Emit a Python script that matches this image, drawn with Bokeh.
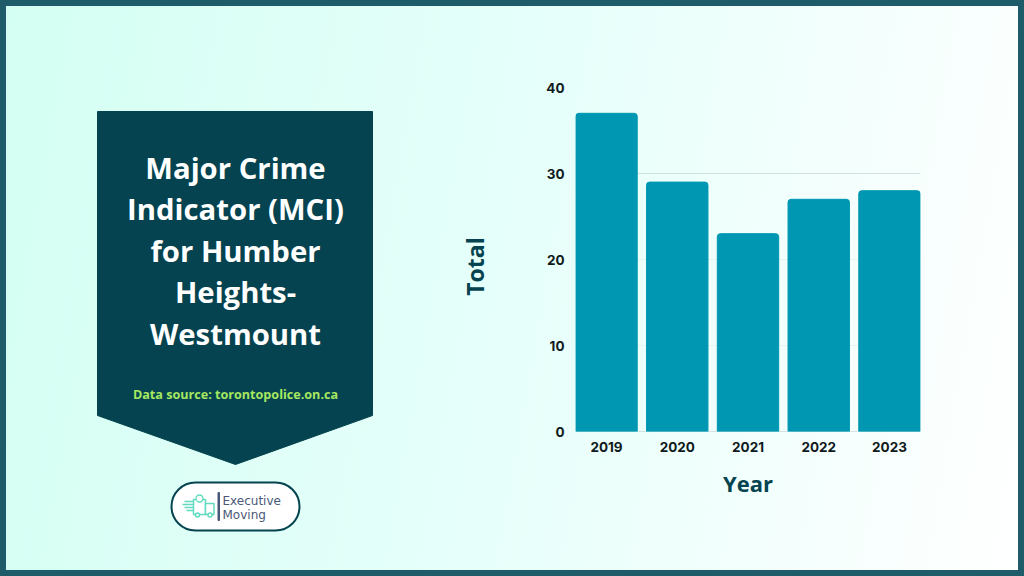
from math import pi
from bokeh.plotting import figure
from bokeh.layouts import column
from bokeh.models import FactorRange, Range1d, Span, FixedTicker
from bokeh.core.properties import value
from bokeh.embed import file_html
from bokeh.resources import INLINE

years = ["2019", "2020", "2021", "2022", "2023"]
totals = [37, 29, 23, 27, 28]
y_ticks = [0, 10, 20, 30, 40]
title_lines = ["Major Crime", "Indicator (MCI)", "for Humber", "Heights-", "Westmount"]
source_text = "Data source: torontopolice.on.ca"
logo_lines = ["Executive", "Moving"]

DARK = "#04434f"
BAR = "#0097b2"
MINT = "#62dcc0"
SLATE = "#4a5878"

# ---- backdrop: banner and logo, on a figure measured in page pixels
bg = figure(width=1024, height=576, x_range=Range1d(0, 1024), y_range=Range1d(576, 0),
            output_backend="svg", toolbar_location=None, min_border=0, x_axis_location=None,
            y_axis_location=None, frame_align=False)
bg.styles = {"position": "fixed", "left": "0px", "top": "0px",
             "background": "linear-gradient(100deg, #d4fff3 0%, #e6fffa 50%, #ffffff 100%)",
             "outline": "6px solid #1f5c69", "outline-offset": "-6px"}
bg.border_fill_color = None
bg.background_fill_color = None
bg.outline_line_color = None
bg.grid.visible = False

bg.patch([97, 372, 372, 235, 97], [111, 111, 415, 464, 415], color=DARK)
bg.text([235] * 5, [167, 208, 250, 291, 333], text=title_lines, text_align="center",
        text_baseline="middle", text_color="#ffffff", text_font=value("Open Sans"),
        text_font_style="bold", text_font_size="29.3px")
bg.text([235], [393.5], text=[source_text], text_align="center", text_baseline="middle",
        text_color="#a6e860", text_font=value("Open Sans"), text_font_style="bold",
        text_font_size="12.6px")
bg.text([474], [266], text=["Total"], angle=pi / 2, text_align="center", text_baseline="middle",
        text_color=DARK, text_font=value("Open Sans"), text_font_style="bold",
        text_font_size="23px")

bg.quad(left=171, right=299, top=482, bottom=530, fill_color="#ffffff", line_color=DARK,
        line_width=2, border_radius=24)
bg.quad(left=217.5, right=219, top=492, bottom=520, color=SLATE)
# truck icon
bg.quad(left=[193, 205], right=[205, 213.5], top=[499, 503], bottom=[514, 514],
        fill_color="#ffffff", line_color=MINT, line_width=1.5)
bg.segment(x0=[184, 182, 184, 186], y0=[501, 504, 507, 510], x1=[193] * 4, y1=[501, 504, 507, 510],
           line_color=MINT, line_width=1.3)
bg.circle([199], [498], radius=3.5, fill_color="#ffffff", line_color=MINT, line_width=1.3)
bg.circle([197, 209.5], [514.5, 514.5], radius=2, fill_color="#ffffff", line_color=MINT, line_width=1.5)
bg.text([222, 222], [500, 514], text=logo_lines, text_align="left", text_baseline="middle",
        text_color=SLATE, text_font=value("DejaVu Sans"), text_font_size="12px")

# ---- the chart itself, transparent, on top
p = figure(width=1024, height=576, frame_width=345, frame_height=344,
           x_range=FactorRange(factors=years, range_padding=-0.0615, range_padding_units="absolute"),
           y_range=Range1d(0, 40), output_backend="svg", toolbar_location=None,
           min_border_left=575, min_border_right=104, min_border_top=87, min_border_bottom=145,
           frame_align=False)
p.styles = {"position": "fixed", "left": "0px", "top": "0px"}
p.border_fill_color = None
p.background_fill_color = None
p.outline_line_color = None

p.vbar(x=years, top=totals, width=0.868, color=BAR, border_radius=(3, 3, 0, 0))

for ax in (p.xaxis[0], p.yaxis[0]):
    ax.axis_line_color = None
    ax.major_tick_line_color = None
    ax.minor_tick_line_color = None
    ax.major_label_text_font = "Inter"
    ax.major_label_text_font_style = "bold"
    ax.major_label_text_font_size = "13.5px"
    ax.major_label_text_color = "#111a1c"
    ax.axis_label_text_font = "Open Sans"
    ax.axis_label_text_font_style = "bold"
    ax.axis_label_text_font_size = "22px"
    ax.axis_label_text_color = DARK
p.xaxis[0].axis_label = "Year"
p.yaxis[0].ticker = FixedTicker(ticks=y_ticks)
p.xaxis[0].major_label_standoff = 4
p.yaxis[0].major_label_standoff = 5
p.xaxis[0].axis_label_standoff = 13
p.xgrid.visible = False
p.ygrid.grid_line_color = "#e6f3f0"
p.ygrid.grid_line_width = 1
p.add_layout(Span(location=y_ticks[3], dimension="width", line_color="#cfe2de", line_width=1, level="underlay"))
p.add_layout(Span(location=y_ticks[0], dimension="width", line_color="#b4c8c6", line_width=1, level="underlay"))

open("out.html", "w").write(file_html(column(bg, p), INLINE))
